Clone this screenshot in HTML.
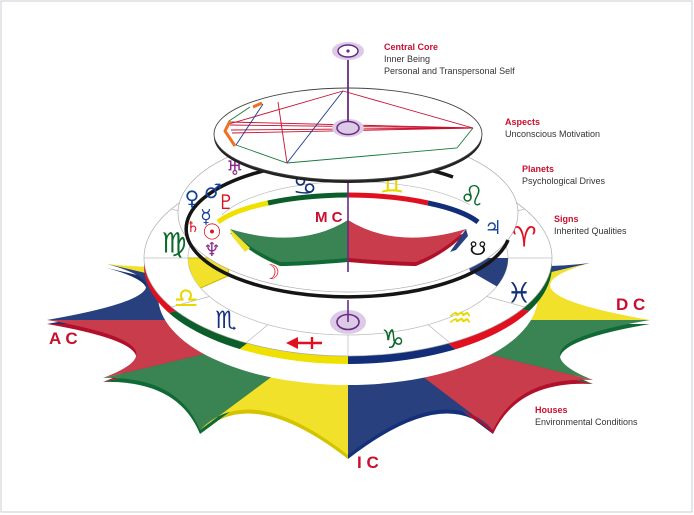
<!DOCTYPE html>
<html><head><meta charset="utf-8"><style>
html,body{margin:0;padding:0;background:#fff;width:694px;height:515px;overflow:hidden;}
svg{display:block;}
.g{font-family:"DejaVu Sans",sans-serif;text-anchor:middle;dominant-baseline:central;font-weight:bold;}
.lab{font-family:"Liberation Sans",sans-serif;font-size:9px;}
.t{fill:#c8102e;font-weight:bold;}
.s{fill:#333;}
.big{font-family:"Liberation Sans",sans-serif;font-weight:bold;fill:#c8102e;}
</style></head><body>
<svg width="694" height="515" viewBox="0 0 694 515" xmlns="http://www.w3.org/2000/svg">
<defs>
<clipPath id="rimclip"><ellipse cx="348" cy="266" rx="204" ry="98"/></clipPath>
<clipPath id="holeclip"><ellipse cx="348" cy="258" rx="160" ry="77"/></clipPath>
</defs>
<rect x="1" y="1" width="691" height="511" fill="#fff" stroke="#c9ced6" stroke-width="1"/>

<g transform="translate(0,4)">
<path d="M348,320 L348,455 Q250,379 200,430 Z" fill="#d4c400"/>
<path d="M348,320 L200,430 Q178,376 103,378 Z" fill="#0f6a35"/>
<path d="M348,320 L103,378 Q191,345 47,320 Z" fill="#b0102a"/>
<path d="M348,320 L47,320 Q209,292 107,264 Z" fill="#1a2f6e"/>
<path d="M348,320 L650,320 Q505,345 593,380 Z" fill="#0f6a35"/>
<path d="M348,320 L593,380 Q518,376 493,430 Z" fill="#b0102a"/>
<path d="M348,320 L493,430 Q446,379 348,455 Z" fill="#14307a"/>
</g>
<path d="M348,320 L190,212 Q308,260 348,190 Z" fill="#3a8352"/>
<path d="M348,320 L348,190 Q388,260 506,212 Z" fill="#c83c4c"/>
<path d="M348,320 L107,264 Q248,279 190,212 Z" fill="#f1e12a"/>
<path d="M348,320 L506,212 Q448,279 590,263 Z" fill="#28407e"/>
<path d="M348,320 L47,320 Q209,292 107,264 Z" fill="#28407e"/>
<path d="M348,320 L590,263 Q487,292 650,320 Z" fill="#f1e12a"/>
<path d="M348,320 L103,378 Q191,345 47,320 Z" fill="#c83c4c"/>
<path d="M348,320 L650,320 Q505,345 593,380 Z" fill="#3a8352"/>
<path d="M348,320 L200,430 Q178,376 103,378 Z" fill="#3a8352"/>
<path d="M348,320 L593,380 Q518,376 493,430 Z" fill="#c83c4c"/>
<path d="M348,320 L348,455 Q250,379 200,430 Z" fill="#f1e12a"/>
<path d="M348,320 L493,430 Q446,379 348,455 Z" fill="#28407e"/>

<ellipse cx="348" cy="296" rx="190" ry="89" fill="#fff"/>

<g clip-path="url(#rimclip)">
<polygon points="348,266 -600,100 -532,496" fill="#e01020"/>
<polygon points="348,266 -532,496 -167,661" fill="#0b5e2a"/>
<polygon points="348,266 -167,661 348,746" fill="#f0e000"/>
<polygon points="348,266 348,746 858,661" fill="#122e78"/>
<polygon points="348,266 858,661 1233,486" fill="#e01020"/>
<polygon points="348,266 1233,486 1300,100" fill="#0b5e2a"/>
</g>
<ellipse cx="348" cy="258" rx="204" ry="98" fill="#fff" stroke="#aaa" stroke-width="0.7"/>
<ellipse cx="348" cy="258" rx="160" ry="77" fill="#fff" stroke="#bbb" stroke-width="0.7"/>
<g stroke="#bbb" stroke-width="0.7">
<line x1="508" y1="258" x2="552" y2="258"/>
<line x1="486.6" y1="296.5" x2="524.7" y2="307"/>
<line x1="428" y1="324.7" x2="450" y2="342.9"/>
<line x1="348" y1="335" x2="348" y2="356"/>
<line x1="268" y1="324.7" x2="246" y2="342.9"/>
<line x1="209.4" y1="296.5" x2="171.3" y2="307"/>
<line x1="188" y1="258" x2="144" y2="258"/>
<line x1="209.4" y1="219.5" x2="171.3" y2="209"/>
<line x1="486.6" y1="219.5" x2="524.7" y2="209"/>
</g>
<g clip-path="url(#holeclip)">
<polygon points="186,258 230,258 228,276 196,290" fill="#f1e12a" stroke="#c8b800" stroke-width="1"/>
<polygon points="466,258 512,258 503,290 470,271" fill="#28407e"/>
</g>
<ellipse cx="348" cy="322" rx="18" ry="12" fill="#dccbe6"/>
<ellipse cx="348" cy="322" rx="11" ry="7.5" fill="none" stroke="#6a2a82" stroke-width="1.6"/>
<line x1="348" y1="300" x2="348" y2="322" stroke="#6a2a82" stroke-width="1.6"/>

<text class="g" x="174" y="243" font-size="28" fill="#0b6a2a">♍</text>
<text class="g" x="186" y="298" font-size="28" fill="#e8d800">♎</text>
<text class="g" x="226" y="320" font-size="24" fill="#14307a">♏</text>
<g stroke="#e01020" stroke-width="2.4" fill="#e01020">
<line x1="292" y1="343" x2="322" y2="343"/>
<line x1="312" y1="337" x2="312" y2="349"/>
<polygon points="286,343 298,337 298,349" stroke="none"/>
</g>
<text class="g" x="393" y="340" font-size="26" fill="#0b6a2a">♑</text>
<text class="g" x="460" y="318" font-size="28" fill="#e8d800">♒</text>
<text class="g" x="519" y="293" font-size="28" fill="#14307a">♓</text>
<text class="g" x="524" y="237" font-size="28" fill="#e01020">♈</text>

<ellipse cx="348" cy="213" rx="170" ry="79" fill="#fff" stroke="#aaa" stroke-width="0.7"/>
<path d="M508,240 A162,68 0 1,1 453,177" fill="none" stroke="#151515" stroke-width="3.5"/>
<path d="M222,215 A140,52 0 0,1 470,205" fill="none" stroke="#bbb" stroke-width="0.7"/>
<g fill="none" stroke-width="5">
<path d="M218,222 A138,41 0 0,1 268,203" stroke="#f0e000"/>
<path d="M268,203 A138,41 0 0,1 348,195" stroke="#0b5e2a"/>
<path d="M348,195 A138,41 0 0,1 428,203" stroke="#e01020"/>
<path d="M428,203 A138,41 0 0,1 478,222" stroke="#122e78"/>
</g>
<path d="M230,233 Q300,254 348,224 L348,262 Q300,266 280,266 Q250,254 230,233 Z" fill="#0f6a35"/>
<path d="M466,233 Q396,254 348,224 L348,262 Q396,266 416,266 Q446,254 466,233 Z" fill="#b0102a"/>
<path d="M230,229 Q300,250 348,220 L348,258 Q300,262 280,262 Q250,250 230,229 Z" fill="#3a8352"/>
<path d="M466,229 Q396,250 348,220 L348,258 Q396,262 416,262 Q446,250 466,229 Z" fill="#c83c4c"/>
<polygon points="230,229 250,248 245,252 232,236" fill="#f1e12a"/>
<polygon points="466,229 450,252 456,250 468,236" fill="#28407e"/>
<text class="big" x="315" y="222" font-size="15">M C</text>

<text class="g" x="305" y="185" font-size="28" fill="#14307a">♋</text>
<text class="g" x="392" y="183" font-size="28" fill="#e8d800">♊</text>
<text class="g" x="472" y="196" font-size="28" fill="#0b6a2a">♌</text>

<text class="g" x="235" y="168" font-size="20" fill="#8a2a8a">♅</text>
<text class="g" x="192" y="198" font-size="20" fill="#14409a">♀</text>
<text class="g" x="213" y="191" font-size="20" fill="#14409a">♂</text>
<text class="g" x="226" y="202" font-size="20" fill="#e01020">♇</text>
<text class="g" x="206" y="217" font-size="19" fill="#14409a">☿</text>
<text class="g" x="193" y="227" font-size="15" fill="#e01020">♄</text>
<text class="g" x="212" y="233" font-size="22" fill="#e01020">☉</text>
<text class="g" x="212" y="250" font-size="19" fill="#8a2a8a">♆</text>
<text class="g" x="271" y="272" font-size="20" fill="#e01020">☽</text>
<text class="g" x="493" y="228" font-size="19" fill="#14409a">♃</text>
<text class="g" x="478" y="249" font-size="19" fill="#111">☋</text>

<line x1="348" y1="178" x2="348" y2="272" stroke="#6a2a82" stroke-width="1.6"/>

<ellipse cx="348" cy="137" rx="134" ry="46" fill="#222"/>
<ellipse cx="348" cy="134" rx="134" ry="46" fill="#fff" stroke="#444" stroke-width="0.9"/>
<g fill="none" stroke-width="0.9">
<polyline points="229,121 250,107" stroke="#1a7a3a"/>
<polyline points="236,145 287,163 457,148 473,128" stroke="#1a7a3a"/>
<line x1="343" y1="91" x2="473" y2="128" stroke="#c8102e"/>
<line x1="343" y1="91" x2="229" y2="124" stroke="#c8102e"/>
<line x1="230" y1="122" x2="473" y2="128" stroke="#c8102e"/>
<line x1="230" y1="125" x2="473" y2="128" stroke="#c8102e"/>
<line x1="231" y1="130" x2="473" y2="128" stroke="#c8102e"/>
<line x1="232" y1="133" x2="473" y2="128" stroke="#c8102e"/>
<line x1="278" y1="102" x2="287" y2="163" stroke="#c8102e"/>
<line x1="263" y1="104" x2="236" y2="145" stroke="#1a3a9a"/>
<line x1="343" y1="91" x2="287" y2="163" stroke="#1a3a9a"/>
</g>
<g fill="none" stroke="#f07020" stroke-width="3" stroke-linejoin="round">
<polyline points="253,107 262,103"/>
<polyline points="230,121 225,131 235,146"/>
</g>
<ellipse cx="348" cy="128" rx="16" ry="9" fill="#dccbe6"/>
<ellipse cx="348" cy="128" rx="11" ry="6.5" fill="none" stroke="#6a2a82" stroke-width="1.5"/>
<line x1="348" y1="51" x2="348" y2="122" stroke="#6a2a82" stroke-width="1.8"/>
<ellipse cx="348" cy="51" rx="16" ry="9" fill="#dccbe6"/>
<ellipse cx="348" cy="51" rx="10" ry="6" fill="#fff" stroke="#6a2a82" stroke-width="1.5"/>
<circle cx="348" cy="51" r="1.6" fill="#6a2a82"/>

<text class="lab t" x="384" y="50">Central Core</text>
<text class="lab s" x="384" y="62">Inner Being</text>
<text class="lab s" x="384" y="74">Personal and Transpersonal Self</text>
<text class="lab t" x="505" y="125">Aspects</text>
<text class="lab s" x="505" y="137">Unconscious Motivation</text>
<text class="lab t" x="522" y="172">Planets</text>
<text class="lab s" x="522" y="184">Psychological Drives</text>
<text class="lab t" x="554" y="222">Signs</text>
<text class="lab s" x="554" y="234">Inherited Qualities</text>
<text class="lab t" x="535" y="413">Houses</text>
<text class="lab s" x="535" y="425">Environmental Conditions</text>
<text class="big" x="49" y="344" font-size="17">A C</text>
<text class="big" x="616" y="310" font-size="17">D C</text>
<text class="big" x="357" y="468" font-size="17">I C</text>
</svg>
</body></html>
